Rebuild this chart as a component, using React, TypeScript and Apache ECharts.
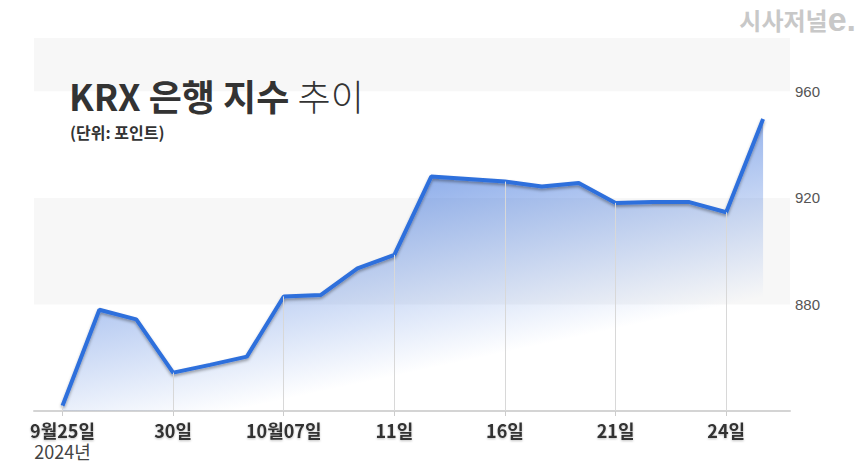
import React, { useEffect, useRef } from "react";
import * as echarts from "echarts";

const dates = [
  "2024-09-25", "2024-09-26", "2024-09-27", "2024-09-30", "2024-10-02",
  "2024-10-04", "2024-10-07", "2024-10-08", "2024-10-10", "2024-10-11",
  "2024-10-14", "2024-10-15", "2024-10-16", "2024-10-17", "2024-10-18",
  "2024-10-21", "2024-10-22", "2024-10-23", "2024-10-24", "2024-10-25",
];
const values = [
  842.0, 878.0, 874.4, 854.4, 857.3, 860.4, 883.0, 883.5, 893.5, 898.6,
  928.0, 927.1, 926.1, 924.3, 925.6, 918.1, 918.4, 918.4, 914.6, 949.6,
];
const tickIndices = [0, 3, 6, 9, 12, 15, 18];
const tickLabels = ["9월25일", "30일", "10월07일", "11일", "16일", "21일", "24일"];
const yearLabel = "2024년";
const yTicks = [880, 920, 960];

const FONT = "'Noto Sans CJK KR', 'Noto Sans', sans-serif";

export default function App() {
  const ref = useRef<HTMLDivElement>(null);
  useEffect(() => {
    if (!ref.current) return;
    const chart = echarts.init(ref.current, null, { renderer: "svg" });
    const data = values.map((v, i) => [i, v]);
    const dropLines = tickIndices.map((i) => [
      { coord: [i, values[i]] },
      { coord: [i, 840] },
    ]);
    const areaGradient = new echarts.graphic.LinearGradient(
      0, 245, 44, 451,
      [
        { offset: 0, color: "rgba(40,100,215,0.82)" },
        { offset: 1, color: "rgba(40,100,215,0)" },
      ],
      true
    );
    chart.setOption({
      animation: false,
      backgroundColor: "#ffffff",
      grid: { left: 34, right: 70, top: 38, bottom: 52, containLabel: false },
      xAxis: {
        type: "value",
        min: -0.773,
        max: 19.73,
        axisLine: { show: true, lineStyle: { color: "#d4d4d4", width: 2 } },
        axisTick: {
          show: true,
          customValues: tickIndices,
          length: 5,
          lineStyle: { color: "#cccccc", width: 1 },
        },
        splitLine: { show: false },
        axisLabel: {
          customValues: tickIndices,
          margin: 9,
          formatter: (v: number) => {
            const k = tickIndices.indexOf(Math.round(v));
            if (k < 0) return "";
            if (k === 0) return `{a|${tickLabels[k]}}\n{b|${yearLabel}}`;
            return `{a|${tickLabels[k]}}`;
          },
          rich: {
            a: {
              fontFamily: FONT,
              fontSize: 18,
              fontWeight: "bold",
              color: "#333333",
              lineHeight: 20,
              textShadowColor: "rgba(0,0,0,0.25)",
              textShadowBlur: 2,
              textShadowOffsetY: 1,
            },
            b: {
              fontFamily: FONT,
              fontSize: 18,
              color: "#444444",
              lineHeight: 21,
            },
          },
        },
      },
      yAxis: {
        type: "value",
        position: "right",
        min: 840,
        max: 980,
        interval: 40,
        axisLine: { show: false },
        axisTick: { show: false },
        splitLine: { show: false },
        splitArea: { show: true, areaStyle: { color: ["#ffffff", "#f7f7f7"] } },
        axisLabel: {
          margin: 5,
          fontFamily: "'Liberation Sans', Arial, sans-serif",
          fontSize: 15,
          color: "#555555",
          formatter: (v: number) => (yTicks.indexOf(v) >= 0 ? String(v) : ""),
        },
      },
      series: [
        {
          type: "line",
          data,
          symbol: "none",
          lineStyle: {
            color: "#2f6fdc",
            width: 4,
            shadowColor: "rgba(0,0,0,0.35)",
            shadowBlur: 3,
            shadowOffsetY: 2,
          },
          areaStyle: { color: areaGradient },
          markLine: {
            silent: true,
            symbol: "none",
            label: { show: false },
            lineStyle: { color: "#d8d8d8", width: 1, type: "solid" },
            data: dropLines,
          },
          z: 3,
        },
      ],
      graphic: [
        {
          type: "text",
          left: 69,
          top: 77,
          z: 100,
          style: {
            text: "{b|KRX 은행 지수 }{l|추이}",
            rich: {
              b: { fontFamily: FONT, fontSize: 36, fontWeight: "bold", fill: "#333333", lineHeight: 36 },
              l: { fontFamily: FONT, fontSize: 36, fontWeight: 300, fill: "#333333", lineHeight: 36 },
            },
          },
        },
        {
          type: "text",
          left: 70,
          top: 124,
          z: 100,
          style: {
            text: "(단위: 포인트)",
            fontFamily: FONT,
            fontSize: 16,
            lineHeight: 16,
            fontWeight: "bold",
            fill: "#333333",
          },
        },
        {
          type: "text",
          right: 4,
          top: 2,
          z: 100,
          style: {
            text: "{k|시사저널}{e|e.}",
            rich: {
              k: { fontFamily: FONT, fontSize: 24, fontWeight: "bold", fill: "#c8c8c8" },
              e: { fontFamily: "'Liberation Sans', sans-serif", fontSize: 34, fontWeight: "bold", fill: "#c8c8c8" },
            },
          },
        },
      ],
    });
    return () => chart.dispose();
  }, []);
  return (
    <div
      ref={ref}
      style={{ position: "fixed", left: 0, top: 0, width: 860, height: 463 }}
    />
  );
}
